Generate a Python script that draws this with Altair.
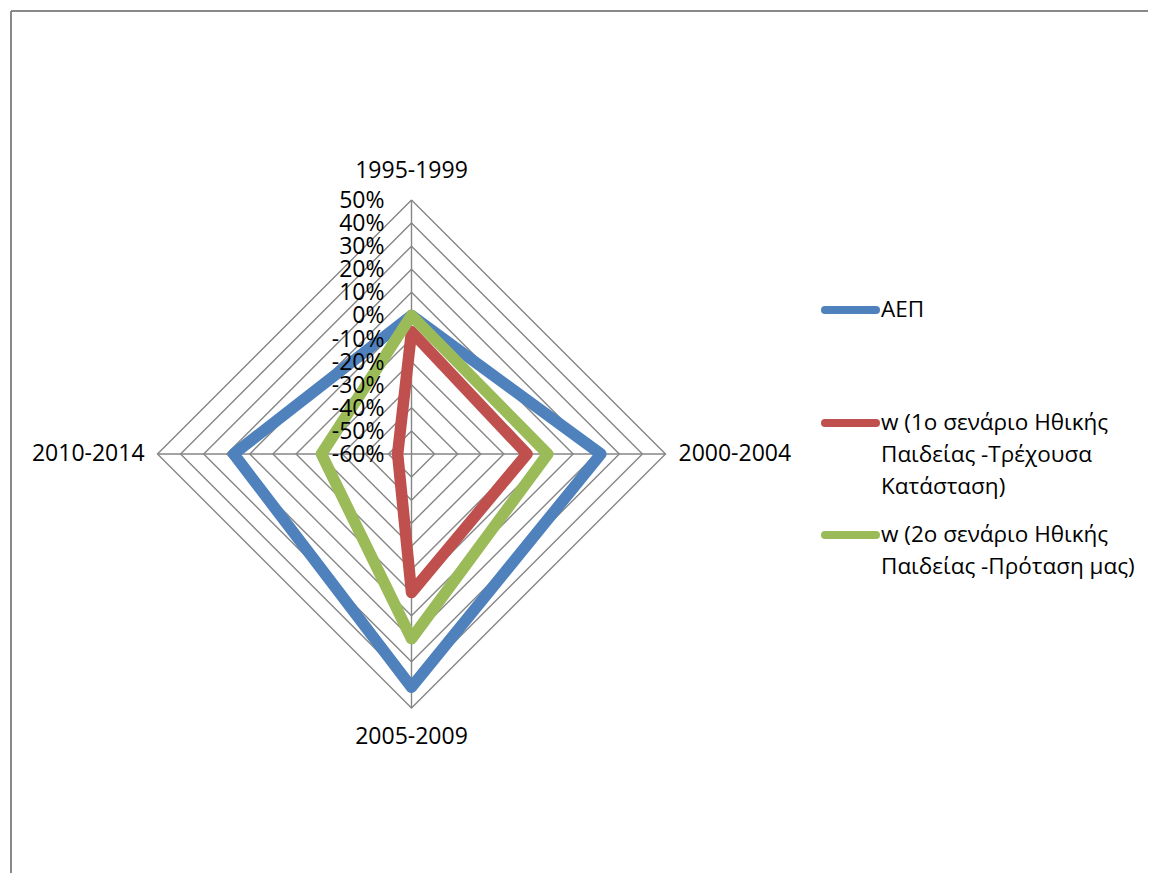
import math
import altair as alt
import pandas as pd

# ---------------- data ----------------
categories = ["1995-1999", "2000-2004", "2005-2009", "2010-2014"]
series_names = [
    "ΑΕΠ",
    "w (1ο σενάριο Ηθικής Παιδείας -Τρέχουσα Κατάσταση)",
    "w (2ο σενάριο Ηθικής Παιδείας -Πρόταση μας)",
]
legend_lines = [
    ["ΑΕΠ"],
    ["w (1ο σενάριο Ηθικής", "Παιδείας -Τρέχουσα", "Κατάσταση)"],
    ["w (2ο σενάριο Ηθικής", "Παιδείας -Πρόταση μας)"],
]
aep = [0, 22, 41, 17]
w1 = [-7, -10, 0, -54]
w2 = [0, -1, 20, -21]
series_values = [aep, w1, w2]
tick_values = [-60, -50, -40, -30, -20, -10, 0, 10, 20, 30, 40, 50]
tick_labels = [f"{t}%" for t in tick_values]
colors = ["#4F81BD", "#C0504D", "#9BBB59"]

# ---------------- layout (pixels) ----------------
W, H = 1140, 865
CX, CY = 403.5, 446.0          # centre of the radar inside the view
R_MIN = tick_values[0]
R_SPAN = tick_values[-1] - tick_values[0]
PX_PER_UNIT = 254.0 / R_SPAN
xdom = [-CX / PX_PER_UNIT, (W - CX) / PX_PER_UNIT]
ydom = [-(H - CY) / PX_PER_UNIT, CY / PX_PER_UNIT]
xs = alt.Scale(domain=xdom, nice=False, zero=False)
ys = alt.Scale(domain=ydom, nice=False, zero=False)
FONT = "Open Sans"
GRID = "#868686"

n = len(categories)

def polar(df_chart):
    return df_chart.transform_calculate(
        theta=f"datum.idx * 2 * PI / {n}",
        r=f"datum.value - ({R_MIN})",
    ).transform_calculate(
        px="datum.r * sin(datum.theta)",
        py="datum.r * cos(datum.theta)",
    )

# grid rings
grid_rows = []
for t in tick_values:
    for k in range(n + 1):
        grid_rows.append({"ring": t, "k": k, "idx": k % n, "value": t})
grid_df = pd.DataFrame(grid_rows)

grid = polar(alt.Chart(grid_df)).mark_line(color=GRID, strokeWidth=1.4).encode(
    x=alt.X("px:Q", scale=xs, axis=None),
    y=alt.Y("py:Q", scale=ys, axis=None),
    detail="ring:N",
    order="k:Q",
)

# spokes
spoke_df = pd.DataFrame({"idx": list(range(n)), "value": [tick_values[-1]] * n,
                         "c": [0.0] * n})
spokes = polar(alt.Chart(spoke_df)).mark_rule(color=GRID, strokeWidth=1.4).encode(
    x=alt.X("c:Q", scale=xs, axis=None),
    y=alt.Y("c:Q", scale=ys, axis=None),
    x2="px:Q",
    y2="py:Q",
)

# value axis labels
tick_df = pd.DataFrame({"idx": [0] * len(tick_values), "value": tick_values,
                        "label": tick_labels})
ticks = polar(alt.Chart(tick_df)).mark_text(
    align="right", baseline="middle", dx=-27, dy=1, fontSize=23, font=FONT, color="#000000"
).encode(
    x=alt.X("px:Q", scale=xs, axis=None),
    y=alt.Y("py:Q", scale=ys, axis=None),
    text="label:N",
)

# category labels
cat_df = pd.DataFrame({"idx": list(range(n)), "cat": categories})
cats = alt.Chart(cat_df).transform_calculate(
    theta=f"datum.idx * 2 * PI / {n}",
).transform_calculate(
    lr=f"{R_SPAN} + 12.5 + 17.5 * abs(sin(datum.theta))",
).transform_calculate(
    px="datum.lr * sin(datum.theta)",
    py="datum.lr * cos(datum.theta)",
).mark_text(
    align="center", baseline="middle", fontSize=23, font=FONT, color="#000000"
).encode(
    x=alt.X("px:Q", scale=xs, axis=None),
    y=alt.Y("py:Q", scale=ys, axis=None),
    text="cat:N",
)

# series
series_layers = []
for name, vals, col in zip(series_names, series_values, colors):
    rows = [{"k": k, "idx": k % n, "value": vals[k % n]} for k in range(n + 1)]
    sdf = pd.DataFrame(rows)
    series_layers.append(
        polar(alt.Chart(sdf)).mark_line(
            color=col, strokeWidth=11.5, strokeJoin="round", strokeCap="round"
        ).encode(
            x=alt.X("px:Q", scale=xs, axis=None),
            y=alt.Y("py:Q", scale=ys, axis=None),
            order="k:Q",
        )
    )

# frame (left and top edges of the chart area)
one = pd.DataFrame({"a": [0]})
frame_left = alt.Chart(one).mark_rule(color="#898989", strokeWidth=2).encode(
    x=alt.value(3), y=alt.value(3), y2=alt.value(H)
)
frame_top = alt.Chart(one).mark_rule(color="#898989", strokeWidth=2).encode(
    x=alt.value(3), x2=alt.value(W), y=alt.value(3)
)

# legend
legend_layers = []
legend_y = [302, 415, 527]
for lines, col, ly in zip(legend_lines, colors, legend_y):
    legend_layers.append(
        alt.Chart(one).mark_rule(color=col, strokeWidth=8, strokeCap="round").encode(
            x=alt.value(817), x2=alt.value(868), y=alt.value(ly)
        )
    )
    legend_layers.append(
        alt.Chart(one).mark_text(
            align="left", baseline="middle", fontSize=22.5, font=FONT,
            color="#000000", lineHeight=32, lineBreak="\n"
        ).encode(
            x=alt.value(873), y=alt.value(ly), text=alt.value("\n".join(lines))
        )
    )

chart = alt.layer(
    frame_left, frame_top, grid, spokes, *series_layers, ticks, cats, *legend_layers
).properties(
    width=W, height=H,
    autosize=alt.AutoSizeParams(type="none"),
    padding=0,
    background="#ffffff",
).configure_view(stroke=None)

chart.save("out.html", embed_options={"renderer": "svg", "actions": False})
